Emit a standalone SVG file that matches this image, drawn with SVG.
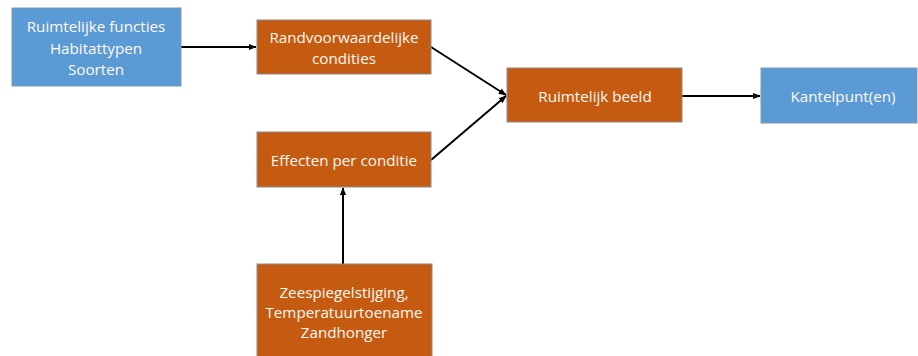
<svg xmlns="http://www.w3.org/2000/svg" width="918" height="356" viewBox="0 0 918 356">
<style>
.blue{fill:#5B9BD5;stroke:#8497B0;stroke-width:1}
.orange{fill:#C55A11;stroke:#8C8C8C;stroke-width:1}
.t{font-family:"Open Sans","Liberation Sans",sans-serif;font-size:15.2px;fill:#FFF8F0;text-anchor:middle}
.c{stroke:#000;stroke-width:2;fill:none;marker-end:url(#ah)}
</style>
<defs>
<marker id="ah" viewBox="0 0 10 10" refX="9" refY="5" markerWidth="4" markerHeight="4" orient="auto" markerUnits="strokeWidth">
<path d="M0,1 L10,5 L0,9 z" fill="#000"/>
</marker>
</defs>
<rect width="918" height="356" fill="#fff"/>
<g id="connectors">
<line class="c" x1="181" y1="47" x2="256" y2="47"/>
<line class="c" x1="431" y1="47" x2="506" y2="95"/>
<line class="c" x1="431" y1="160" x2="506" y2="96"/>
<line class="c" x1="682" y1="96" x2="760" y2="96"/>
<line class="c" x1="343" y1="264" x2="343" y2="188"/>
</g>
<g id="n1">
<rect class="blue" x="12" y="8" width="169" height="78"/>
<text class="t" x="96" y="32">Ruimtelijke functies</text>
<text class="t" x="96" y="54">Habitattypen</text>
<text class="t" x="96" y="75">Soorten</text>
</g>
<g id="n2">
<rect class="orange" x="257" y="20" width="174" height="54"/>
<text class="t" x="344" y="43">Randvoorwaardelijke</text>
<text class="t" x="344" y="64">condities</text>
</g>
<g id="n3">
<rect class="orange" x="257" y="132" width="174" height="55"/>
<text class="t" x="344" y="166">Effecten per conditie</text>
</g>
<g id="n4">
<rect class="orange" x="507" y="68" width="175" height="54"/>
<text class="t" x="595" y="102">Ruimtelijk beeld</text>
</g>
<g id="n5">
<rect class="blue" x="761" y="68" width="156" height="55"/>
<text class="t" x="843" y="102">Kantelpunt(en)</text>
</g>
<g id="n6">
<rect class="orange" x="257" y="264" width="175" height="95"/>
<text class="t" x="344" y="298">Zeespiegelstijging,</text>
<text class="t" x="344" y="318">Temperatuurtoename</text>
<text class="t" x="344" y="338">Zandhonger</text>
</g>
</svg>
